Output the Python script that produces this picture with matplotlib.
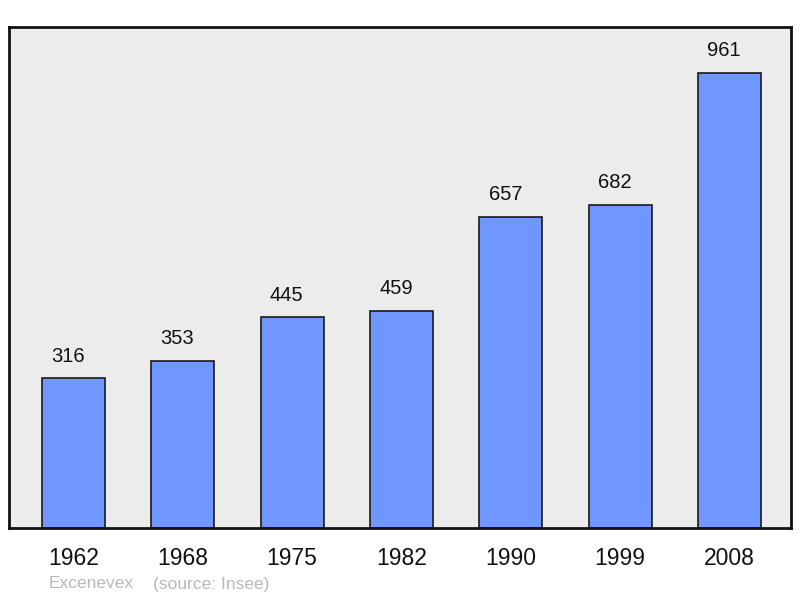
import matplotlib.pyplot as plt

plt.rcParams['font.family'] = ['Liberation Sans', 'DejaVu Sans']

# population data
years = ['1962', '1968', '1975', '1982', '1990', '1999', '2008']
population = [316, 353, 445, 459, 657, 682, 961]

fig = plt.figure(figsize=(8, 5.98), dpi=100)
ax = fig.add_axes([0.01125, 0.1171, 0.9775, 0.8378])
ax.set_facecolor('#ececec')

x = range(len(years))
bars = ax.bar(x, population, width=0.576, color='#7096ff',
              edgecolor='#1a1a1a', linewidth=1.2, zorder=2)

for xi, v in zip(x, population):
    ax.annotate(str(v), (xi, v), xytext=(-4, 16), textcoords='offset points',
                ha='center', va='center', fontsize=14.5, color='#111111')

ax.set_xlim(-0.59, 6.5625)
ax.set_ylim(0, 1058)
ax.set_yticks([])
ax.set_xticks(list(x))
ax.set_xticklabels(years, fontsize=16.5, color='#111111')
ax.tick_params(axis='x', length=0, pad=14)
for s in ax.spines.values():
    s.set_linewidth(2)
    s.set_color('#111111')

fig.text(49 / 800, 1 - 584 / 598, 'Excenevex', fontsize=12.5, color='#b8b8b8', va='center')
fig.text(153 / 800, 1 - 584 / 598, '(source: Insee)', fontsize=12.5, color='#b8b8b8', va='center')

fig.savefig('out.png', dpi=100)
